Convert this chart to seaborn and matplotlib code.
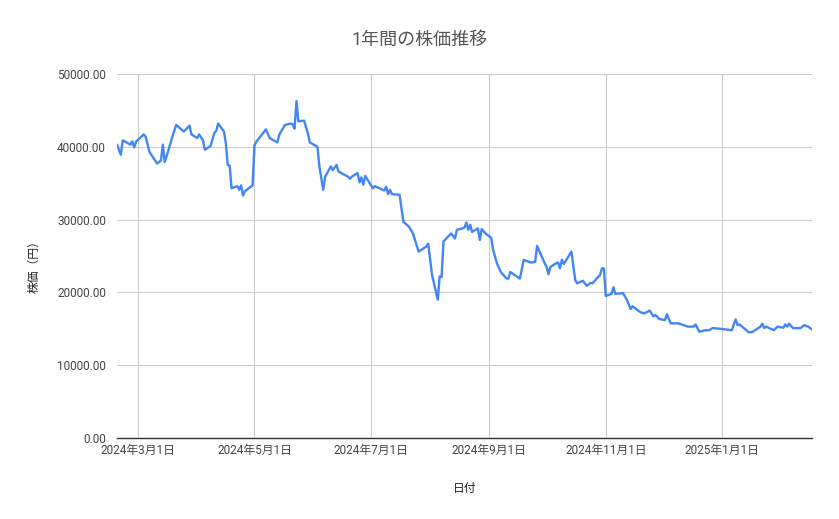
import matplotlib
matplotlib.use("Agg")
import matplotlib.pyplot as plt
import matplotlib.dates as mdates
import matplotlib.ticker as mticker
import pandas as pd
import seaborn as sns

# 日付と株価
dates = [
    "2024-02-19", "2024-02-21", "2024-02-22", "2024-02-24", "2024-02-26",
    "2024-02-27", "2024-02-28", "2024-02-29", "2024-03-04", "2024-03-05",
    "2024-03-07", "2024-03-09", "2024-03-11", "2024-03-13", "2024-03-14",
    "2024-03-15", "2024-03-17", "2024-03-19", "2024-03-21", "2024-03-25",
    "2024-03-28", "2024-03-29", "2024-04-01", "2024-04-02", "2024-04-04",
    "2024-04-05", "2024-04-08", "2024-04-10", "2024-04-11", "2024-04-12",
    "2024-04-15", "2024-04-16", "2024-04-17", "2024-04-18", "2024-04-19",
    "2024-04-22", "2024-04-23", "2024-04-24", "2024-04-25", "2024-04-26",
    "2024-04-29", "2024-04-30", "2024-05-01", "2024-05-02", "2024-05-07",
    "2024-05-09", "2024-05-13", "2024-05-14", "2024-05-17", "2024-05-20",
    "2024-05-21", "2024-05-22", "2024-05-23", "2024-05-24", "2024-05-27",
    "2024-05-29", "2024-05-30", "2024-06-03", "2024-06-04", "2024-06-06",
    "2024-06-07", "2024-06-10", "2024-06-11", "2024-06-13", "2024-06-14",
    "2024-06-19", "2024-06-20", "2024-06-21", "2024-06-24", "2024-06-25",
    "2024-06-26", "2024-06-27", "2024-06-28", "2024-07-02", "2024-07-03",
    "2024-07-08", "2024-07-09", "2024-07-10", "2024-07-11", "2024-07-12",
    "2024-07-16", "2024-07-18", "2024-07-21", "2024-07-23", "2024-07-26",
    "2024-07-30", "2024-07-31", "2024-08-02", "2024-08-05", "2024-08-06",
    "2024-08-07", "2024-08-08", "2024-08-12", "2024-08-14", "2024-08-15",
    "2024-08-18", "2024-08-19", "2024-08-20", "2024-08-21", "2024-08-22",
    "2024-08-23", "2024-08-26", "2024-08-27", "2024-08-28", "2024-08-30",
    "2024-09-02", "2024-09-03", "2024-09-05", "2024-09-07", "2024-09-10",
    "2024-09-11", "2024-09-12", "2024-09-17", "2024-09-19", "2024-09-23",
    "2024-09-25", "2024-09-26", "2024-09-30", "2024-10-01", "2024-10-02",
    "2024-10-03", "2024-10-06", "2024-10-07", "2024-10-08", "2024-10-09",
    "2024-10-10", "2024-10-14", "2024-10-16", "2024-10-17", "2024-10-20",
    "2024-10-22", "2024-10-24", "2024-10-25", "2024-10-29", "2024-10-30",
    "2024-10-31", "2024-11-01", "2024-11-04", "2024-11-05", "2024-11-06",
    "2024-11-10", "2024-11-12", "2024-11-14", "2024-11-15", "2024-11-19",
    "2024-11-21", "2024-11-24", "2024-11-26", "2024-11-27", "2024-11-29",
    "2024-12-02", "2024-12-03", "2024-12-05", "2024-12-09", "2024-12-14",
    "2024-12-17", "2024-12-18", "2024-12-20", "2024-12-23", "2024-12-25",
    "2024-12-27", "2024-12-31", "2025-01-06", "2025-01-08", "2025-01-09",
    "2025-01-10", "2025-01-15", "2025-01-17", "2025-01-21", "2025-01-22",
    "2025-01-23", "2025-01-24", "2025-01-28", "2025-01-30", "2025-02-02",
    "2025-02-03", "2025-02-04", "2025-02-05", "2025-02-07", "2025-02-11",
    "2025-02-13", "2025-02-15", "2025-02-17",
]
prices = [
    40300, 38900, 40900, 40600, 40300,
    40750, 39900, 40700, 41700, 41400,
    39300, 38500, 37700, 38100, 40300,
    37900, 39600, 41400, 43000, 42100,
    42900, 41700, 41200, 41700, 40900,
    39600, 40100, 41900, 42200, 43200,
    42100, 40500, 37500, 37400, 34300,
    34600, 34100, 34700, 33300, 33900,
    34500, 34700, 40200, 40700, 42400,
    41200, 40600, 41700, 43000, 43200,
    43100, 42500, 46300, 43500, 43600,
    41800, 40600, 40000, 37300, 34100,
    35900, 37300, 36800, 37500, 36600,
    35900, 35600, 35900, 36400, 35100,
    35800, 34800, 36000, 34300, 34600,
    34000, 34500, 33500, 34100, 33500,
    33400, 29700, 29000, 28100, 25600,
    26300, 26700, 22400, 19000, 22200,
    22100, 27000, 28100, 27400, 28600,
    28800, 28900, 29600, 28600, 29300,
    28300, 28800, 27200, 28700, 28100,
    27500, 25800, 24000, 22800, 21900,
    21900, 22800, 21900, 24450, 24100,
    24200, 26400, 24000, 23500, 22500,
    23500, 24000, 24100, 23300, 24500,
    23900, 25600, 21700, 21250, 21600,
    20900, 21300, 21250, 22400, 23300,
    23300, 19500, 19800, 20700, 19800,
    19900, 19000, 17700, 18100, 17300,
    17100, 17500, 16700, 16900, 16350,
    16200, 17000, 15750, 15750, 15300,
    15300, 15600, 14600, 14800, 14800,
    15100, 15000, 14800, 16300, 15500,
    15600, 14500, 14600, 15300, 15700,
    15100, 15300, 14800, 15300, 15150,
    15600, 15300, 15700, 15100, 15100,
    15500, 15300, 14900,
]
tick_dates = ["2024-03-01", "2024-05-01", "2024-07-01", "2024-09-01",
              "2024-11-01", "2025-01-01"]
y_ticks = [0, 10000, 20000, 30000, 40000, 50000]

df = pd.DataFrame({"日付": pd.to_datetime(dates), "株価": prices})

sns.set_style("white")
plt.rcParams["font.family"] = ["Roboto", "Noto Sans CJK JP", "DejaVu Sans"]

fig = plt.figure(figsize=(8.39, 5.19), dpi=100)
ax = fig.add_axes([117 / 839, 1 - 438 / 519, (812 - 117) / 839, (438 - 74) / 519])

sns.lineplot(df, x="日付", y="株価", color="#4285f4", linewidth=1.7, ax=ax)

ax.set_xlim(df["日付"].iloc[0], df["日付"].iloc[-1])
ax.set_ylim(0, 50000)
ax.set_yticks(y_ticks)
ax.yaxis.set_major_formatter(mticker.FuncFormatter(lambda v, _: f"{v:.2f}"))
ax.set_xticks(pd.to_datetime(tick_dates))
ax.xaxis.set_major_formatter(mticker.FuncFormatter(
    lambda v, _: "{0.year}年{0.month}月{0.day}日".format(mdates.num2date(v))))

ax.grid(True, color="#cccccc", linewidth=0.8)
for s in ["top", "right", "left"]:
    ax.spines[s].set_visible(False)
ax.spines["bottom"].set_color("#333333")
ax.spines["bottom"].set_linewidth(1.0)
ax.spines["bottom"].set_zorder(3)
ax.tick_params(axis="y", length=6, color="#cccccc", width=0.8, labelsize=8.5,
               labelcolor="#444444", pad=2)
ax.tick_params(axis="x", length=0, labelsize=8.5, labelcolor="#444444", pad=4)

ax.set_xlabel("日付", fontsize=8.5, color="#222222")
ax.xaxis.set_label_coords(0.5, -0.12)
ax.set_ylabel("株価（円）", fontsize=8.5, color="#222222")
ax.yaxis.set_label_coords(-0.11, 0.48)

fig.text(0.5, 1 - 40 / 519, "1年間の株価推移", ha="center", va="center",
         fontsize=13, color="#555555")

plt.savefig("out.png", dpi=100)
